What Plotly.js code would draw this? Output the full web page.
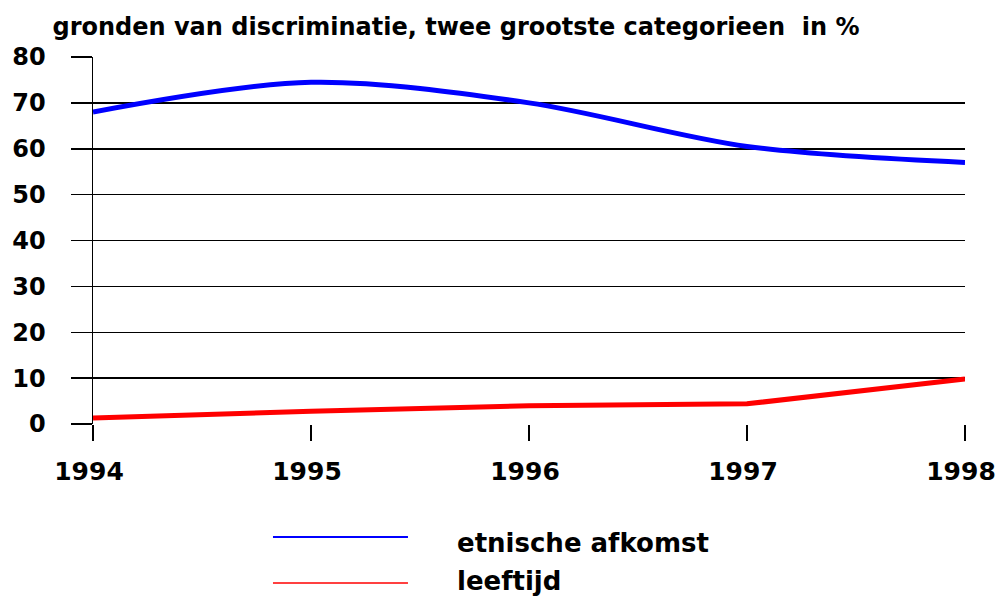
<!DOCTYPE html>
<html>
<head>
<meta charset="utf-8">
<script src="https://cdn.plot.ly/plotly-3.0.1.min.js"></script>
<style>
html,body{margin:0;padding:0;background:#fff;}
#chart{width:999px;height:599px;}
</style>
</head>
<body>
<div id="chart"></div>
<script>
var years = [1994, 1995, 1996, 1997, 1998];
var etnischeAfkomst = [68, 74.5, 70, 60.5, 57];
var leeftijd = [1.3, 2.8, 4, 4.4, 9.8];
var seriesNames = ['etnische afkomst', 'leeftijd'];
var titleText = 'gronden van discriminatie, twee grootste categorieen&nbsp;&nbsp;in %';

var traces = [
  {x: years, y: etnischeAfkomst, type: 'scatter', mode: 'lines', name: seriesNames[0],
   line: {color: '#0000ff', width: 5, shape: 'spline', smoothing: 0.9}},
  {x: years, y: leeftijd, type: 'scatter', mode: 'lines', name: seriesNames[1],
   line: {color: '#ff0000', width: 5, shape: 'linear'}}
];

var font = 'DejaVu Sans, sans-serif';
var layout = {
  width: 999, height: 599,
  paper_bgcolor: '#fff', plot_bgcolor: '#fff',
  margin: {l: 93, r: 34, t: 57, b: 175},
  showlegend: false,
  title: {text: '<b>' + titleText + '</b>', font: {family: font, size: 24, color: '#000'},
          x: 0.4565, xanchor: 'center', y: 0.955, yanchor: 'middle', xref: 'container', yref: 'container'},
  xaxis: {
    range: [1994, 1998], tickvals: years, ticktext: years.map(String),
    showgrid: false, zeroline: false, showline: false,
    ticks: 'outside', ticklen: 16, tickwidth: 1.5, tickcolor: '#000',
    ticklabelstandoff: 9, ticklabeloverflow: 'allow', ticklabelshift: -4,
    tickfont: {family: font, size: 25, color: '#000', weight: 'bold'}
  },
  yaxis: {
    range: [0, 80], dtick: 10, tick0: 0,
    showgrid: true, gridcolor: '#000', gridwidth: 1.5,
    zeroline: false, showline: true, linecolor: '#000', linewidth: 1.5,
    ticks: 'outside', ticklen: 21, tickwidth: 1.5, tickcolor: '#000',
    ticklabelstandoff: 20,
    tickfont: {family: font, size: 24, color: '#000', weight: 'bold'}
  },
  shapes: [
    {type: 'line', xref: 'paper', yref: 'paper', x0: 0.2064, x1: 0.3612, y0: -0.308, y1: -0.308,
     line: {color: '#0000ff', width: 2}},
    {type: 'line', xref: 'paper', yref: 'paper', x0: 0.2064, x1: 0.3612, y0: -0.433, y1: -0.433,
     line: {color: '#ff4040', width: 2}}
  ],
  annotations: [
    {xref: 'paper', yref: 'paper', x: 0.415, y: -0.324, xanchor: 'left', yanchor: 'middle',
     text: '<b>' + seriesNames[0] + '</b>', showarrow: false, font: {family: font, size: 26, color: '#000'}},
    {xref: 'paper', yref: 'paper', x: 0.415, y: -0.428, xanchor: 'left', yanchor: 'middle',
     text: '<b>' + seriesNames[1] + '</b>', showarrow: false, font: {family: font, size: 26, color: '#000'}}
  ]
};

Plotly.newPlot('chart', traces, layout, {displayModeBar: false, staticPlot: true});
</script>
</body>
</html>
